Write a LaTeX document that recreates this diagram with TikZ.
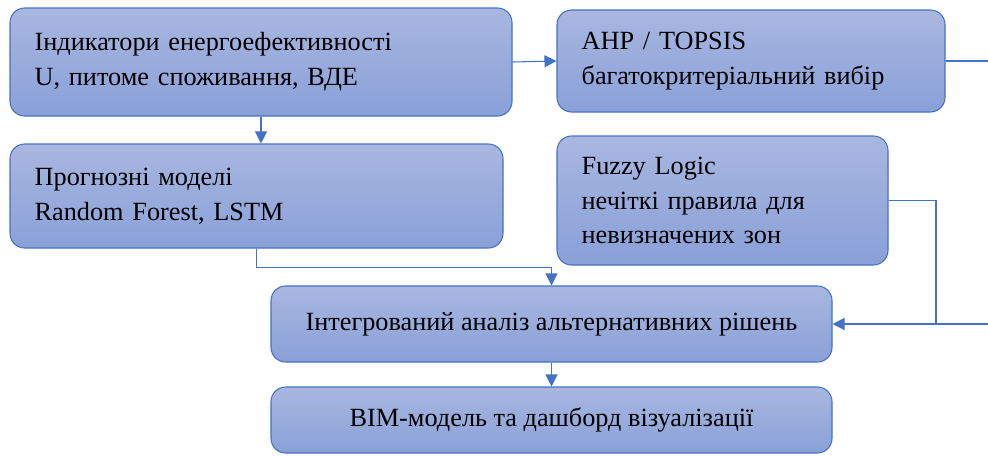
\documentclass[tikz,border=0pt]{standalone}
\usepackage{fontspec}
\setmainfont{Liberation Serif}
\usepackage{xcolor}
\usetikzlibrary{arrows.meta}
\definecolor{boxline}{HTML}{4472C4}
\definecolor{boxtop}{HTML}{A9B7E0}
\definecolor{boxbot}{HTML}{89A0D8}

\begin{document}
\begin{tikzpicture}[x=0.75pt, y=-0.75pt, >={Triangle[length=9pt,width=9pt]},
    font=\fontsize{19.7}{26}\selectfont,
    block/.style={draw=boxline, line width=0.8pt, rounded corners=11pt,
        top color=boxtop, bottom color=boxbot, inner xsep=18.5pt, inner ysep=0pt},
    lblock/.style={block, align=left},
    cblock/.style={block, align=center},
    link/.style={draw=boxline, line width=0.8pt}]
                \useasboundingbox (0,0) rectangle (988,455);
                \node[lblock, minimum width=376.5pt, minimum height=81pt, text width=339.5pt] (ind) at (261,62)
                    {Індикатори енергоефективності\\U, питоме споживання, ВДЕ};
                \node[lblock, minimum width=291pt, minimum height=76.5pt, text width=254pt] (ahp) at (751,61)
                    {AHP / TOPSIS\\багатокритеріальний вибір};
                \node[lblock, minimum width=248.25pt, minimum height=96.75pt, text width=211.25pt] (fuzzy) at (722.5,200.5)
                    {Fuzzy Logic\\нечіткі правила для\\невизначених зон};
                \node[lblock, minimum width=369.75pt, minimum height=78pt, text width=332.75pt] (progn) at (256.5,196)
                    {Прогнозні моделі\\Random Forest, LSTM};
                \node[cblock, minimum width=420.75pt, minimum height=57pt] (integ) at (551.5,324)
                    {Інтегрований аналіз альтернативних рішень};
                \node[cblock, minimum width=420.75pt, minimum height=49.5pt] (bim) at (551.5,420)
                    {BIM-модель та дашборд візуалізації};
                
                \coordinate (joint) at (936,0);
                \coordinate (outside) at (1010,0);
                
                \draw[link, ->] (ind.east) -- (ahp.west);
                \draw[link, ->] (ind.south) -- (ind.south |- progn.north);
                \draw[link, ->] (progn.south) -- ++(0,19) -| (integ.north);
                \draw[link] (ahp.east) -- (ahp.east -| outside) |- (integ.east -| joint);
                \draw[link, ->] (fuzzy.east) -- (fuzzy.east -| joint) |- (integ.east);
                \draw[link, ->] (integ.south) -- (bim.north);
            \end{tikzpicture}
\end{document}
